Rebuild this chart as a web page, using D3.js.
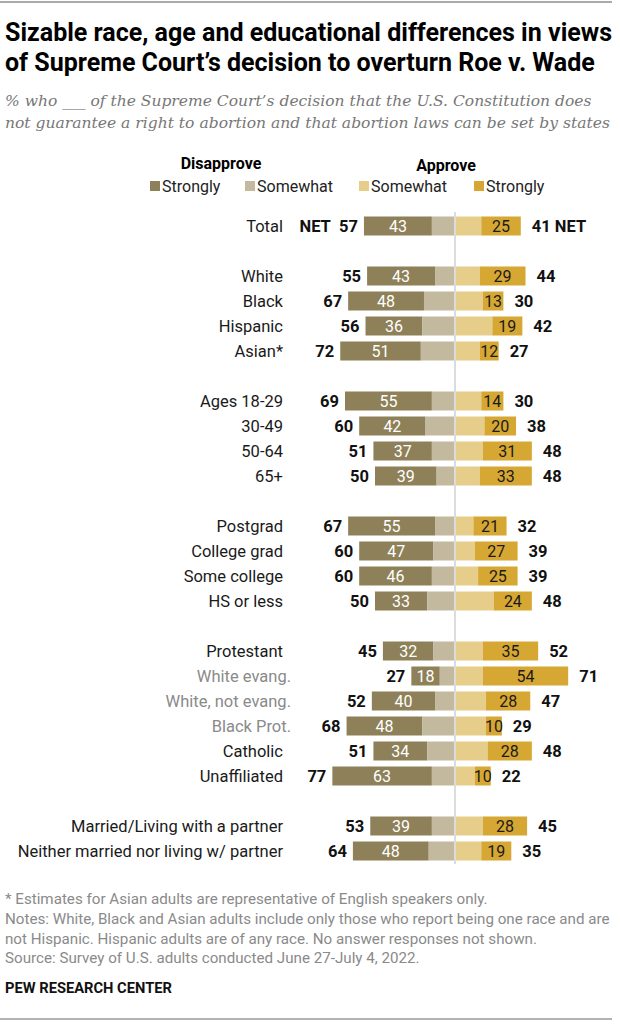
<!DOCTYPE html>
<html><head><meta charset="utf-8">
<script src="https://cdn.jsdelivr.net/npm/d3@7"></script>
<style>
body{margin:0;background:#fff;}
svg{display:block;}
text{font-family:Roboto,"Noto Sans",sans-serif;}
</style></head>
<body><svg id="c" width="620" height="1024"></svg>
<script>
const categories = ["Total","White","Black","Hispanic","Asian*","Ages 18-29","30-49","50-64","65+","Postgrad","College grad","Some college","HS or less","Protestant","White evang.","White, not evang.","Black Prot.","Catholic","Unaffiliated","Married/Living with a partner","Neither married nor living w/ partner"];
const rowSlots = [0,2,3,4,5,7,8,9,10,12,13,14,15,17,18,19,20,21,22,24,25];
const subLabels = ["White evang.","White, not evang.","Black Prot."];
const disStrong = [43,43,48,36,51,55,42,37,39,55,47,46,33,32,18,40,48,34,63,39,48];
const disSome   = [14,12,19,20,21,14,18,14,11,12,13,14,17,13,9,12,20,17,14,14,16];
const disNet    = [57,55,67,56,72,69,60,51,50,67,60,60,50,45,27,52,68,51,77,53,64];
const appSome   = [16,15,17,23,15,16,18,17,15,11,12,14,24,17,17,19,19,20,12,17,16];
const appStrong = [25,29,13,19,12,14,20,31,33,21,27,25,24,35,54,28,10,28,10,28,19];
const appNet    = [41,44,30,42,27,30,38,48,48,32,39,39,48,52,71,47,29,48,22,45,35];
const legendLabels = ["Strongly","Somewhat","Somewhat","Strongly"];
const colors = ["#8e8159","#c2b99f","#e6cd8a","#d6a833"];

const svg = d3.select("#c");
const cx = 455;
const x = d3.scaleLinear().domain([0,100]).range([0,158]);
const y = d3.scaleLinear().domain([0,1]).range([226,251]);
const bh = 19;

function fit(sel, target){
  const w = sel.node().getComputedTextLength();
  const fs = parseFloat(sel.attr("font-size"));
  sel.attr("font-size", (fs*target/w).toFixed(2));
}

// top/bottom rules
svg.append("line").attr("x1",0).attr("x2",612).attr("y1",2).attr("y2",2).attr("stroke","#aaa").attr("stroke-width",2);
svg.append("line").attr("x1",0).attr("x2",612).attr("y1",1019).attr("y2",1019).attr("stroke","#999").attr("stroke-width",1.5);

// title
const t1 = svg.append("text").attr("x",5).attr("y",41).attr("font-size",22).attr("font-weight",700).attr("fill","#000").text("Sizable race, age and educational differences in views");
fit(t1,607);
const t2 = svg.append("text").attr("x",5).attr("y",71).attr("font-size",22).attr("font-weight",700).attr("fill","#000").text("of Supreme Court\u2019s decision to overturn Roe v. Wade");
t2.attr("font-size", t1.attr("font-size"));
const s1 = svg.append("text").attr("x",5).attr("y",106).attr("font-size",16).attr("font-style","italic").attr("fill","#777").style("font-family","Georgia,'DejaVu Serif',serif").text("% who ___ of the Supreme Court\u2019s decision that the U.S. Constitution does");
fit(s1,587);
const s2 = svg.append("text").attr("x",5).attr("y",128).attr("font-size",16).attr("font-style","italic").attr("fill","#777").style("font-family","Georgia,'DejaVu Serif',serif").text("not guarantee a right to abortion and that abortion laws can be set by states");
fit(s2,605);

// legend
svg.append("text").attr("x",221).attr("y",169).attr("text-anchor","middle").attr("font-size",16).attr("font-weight",700).text("Disapprove");
svg.append("text").attr("x",446).attr("y",171).attr("text-anchor","middle").attr("font-size",16).attr("font-weight",700).text("Approve");
const legX = [150,245,359,474];
const lg = svg.append("g").selectAll("g").data(legendLabels).join("g").attr("transform",(d,i)=>`translate(${legX[i]},186)`);
lg.append("rect").attr("x",0).attr("y",-5).attr("width",10).attr("height",10).attr("fill",(d,i)=>colors[i]);
lg.append("text").attr("x",12).attr("y",6).attr("font-size",16).attr("fill","#222").text(d=>d);

// center line
svg.append("line").attr("x1",cx).attr("x2",cx).attr("y1",212).attr("y2",864).attr("stroke","#d0d0d0").attr("stroke-width",1.5);

const rows = svg.append("g").selectAll("g").data(categories).join("g")
  .attr("transform",(d,i)=>`translate(0,${y(rowSlots[i])})`);

// labels
rows.append("text").attr("x",d=>subLabels.includes(d)?291:283).attr("y",6).attr("text-anchor","end")
  .attr("font-size",16.5).attr("fill",d=>subLabels.includes(d)?"#8a8a8a":"#1a1a1a").text(d=>d);

// bars
rows.append("rect").attr("x",(d,i)=>cx-1-x(disStrong[i]+disSome[i])).attr("y",-bh/2).attr("width",(d,i)=>x(disStrong[i])).attr("height",bh).attr("fill",colors[0]);
rows.append("rect").attr("x",(d,i)=>cx-1-x(disSome[i])).attr("y",-bh/2).attr("width",(d,i)=>x(disSome[i])).attr("height",bh).attr("fill",colors[1]);
rows.append("rect").attr("x",cx+1).attr("y",-bh/2).attr("width",(d,i)=>x(appSome[i])).attr("height",bh).attr("fill",colors[2]);
rows.append("rect").attr("x",(d,i)=>cx+1+x(appSome[i])).attr("y",-bh/2).attr("width",(d,i)=>x(appStrong[i])).attr("height",bh).attr("fill",colors[3]);

// inner values
rows.append("text").attr("x",(d,i)=>cx-1-x(disSome[i])-x(disStrong[i])/2).attr("y",6).attr("text-anchor","middle").attr("font-size",16).attr("fill","#fff").text((d,i)=>disStrong[i]);
rows.append("text").attr("x",(d,i)=>cx+1+x(appSome[i])+x(appStrong[i])/2).attr("y",6).attr("text-anchor","middle").attr("font-size",16).attr("fill","#1a1a1a").text((d,i)=>appStrong[i]);

// net values
rows.append("text").attr("x",(d,i)=>cx-1-x(disNet[i])-6).attr("y",6).attr("text-anchor","end").attr("font-size",16.5).attr("font-weight",700).attr("fill","#111").attr("xml:space","preserve").style("white-space","pre").text((d,i)=>i===0?"NET\u00a0\u00a0"+disNet[i]:disNet[i]);
rows.append("text").attr("x",(d,i)=>cx+1+x(appNet[i])+11).attr("y",6).attr("text-anchor","start").attr("font-size",16.5).attr("font-weight",700).attr("fill","#111").text((d,i)=>i===0?appNet[i]+" NET":appNet[i]);

// footer
const notes = ["* Estimates for Asian adults are representative of English speakers only.",
"Notes: White, Black and Asian adults include only those who report being one race and are",
"not Hispanic. Hispanic adults are of any race. No answer responses not shown.",
"Source: Survey of U.S. adults conducted June 27-July 4, 2022."];
const noteY = [904,924,944,963];
const n0 = svg.append("g").selectAll("text").data(notes).join("text").attr("x",5).attr("y",(d,i)=>noteY[i]).attr("font-size",13).attr("fill","#8a8a8a").text(d=>d);
const nsel = d3.select(n0.nodes()[1]);
fit(nsel,605);
n0.attr("font-size", nsel.attr("font-size"));
const pw = svg.append("text").attr("x",5).attr("y",993).attr("font-size",13).attr("font-weight",700).attr("fill","#111").text("PEW RESEARCH CENTER");
fit(pw,167);
</script></body></html>
